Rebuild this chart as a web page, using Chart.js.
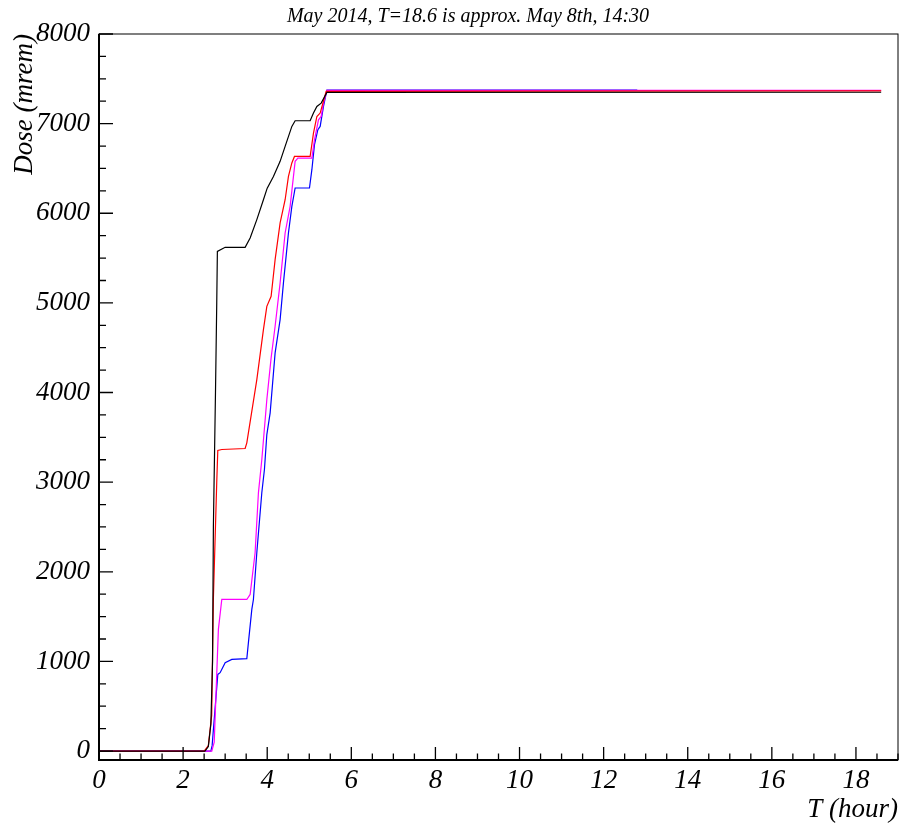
<!DOCTYPE html>
<html>
<head>
<meta charset="utf-8">
<script src="https://cdn.jsdelivr.net/npm/chart.js@4/dist/chart.umd.min.js"></script>
<style>
  html, body { margin: 0; padding: 0; background: #fff; }
  #wrap { width: 902px; height: 829px; }
</style>
</head>
<body>
<div id="wrap"><canvas id="chart"></canvas></div>
<script>
const titleText = 'May 2014, T=18.6 is approx. May 8th, 14:30';
const xTitle = 'T (hour)';
const yTitle = 'Dose (mrem)';

const xTicks = [0, 2, 4, 6, 8, 10, 12, 14, 16, 18];
const yTicks = [0, 1000, 2000, 3000, 4000, 5000, 6000, 7000, 8000];

// dose curves, [T (hour), dose (mrem)]
const blackCurve = [
  [0, 0], [2.52, 0], [2.6, 50], [2.66, 300], [2.7, 1000], [2.72, 2500], [2.77, 4000],
  [2.8, 5000], [2.815, 5575], [3.0, 5620], [3.475, 5620], [3.594, 5724], [3.753, 5929],
  [3.91, 6151], [4.0, 6280], [4.148, 6411], [4.307, 6579], [4.426, 6746], [4.586, 6969],
  [4.664, 7032], [5.021, 7032], [5.1, 7118], [5.181, 7192], [5.283, 7229], [5.419, 7348],
  [18.6, 7350]
];
const redCurve = [
  [0, 0], [2.5, 0], [2.6, 60], [2.68, 400], [2.72, 1700], [2.8, 3000], [2.825, 3353],
  [2.92, 3364], [3.475, 3375], [3.515, 3439], [3.753, 4144], [3.91, 4702], [3.991, 4962],
  [4.093, 5073], [4.188, 5482], [4.307, 5892], [4.426, 6151], [4.505, 6411], [4.586, 6561],
  [4.648, 6634], [5.021, 6634], [5.1, 6895], [5.181, 7080], [5.259, 7118], [5.324, 7229],
  [5.402, 7359], [18.6, 7365]
];
const magentaCurve = [
  [0, 0], [2.682, 0], [2.74, 100], [2.839, 1357], [2.92, 1691], [3.515, 1691], [3.594, 1747],
  [3.712, 2212], [3.791, 2881], [3.872, 3252], [3.991, 3921], [4.093, 4386], [4.188, 4739],
  [4.307, 5223], [4.426, 5780], [4.545, 6077], [4.664, 6579], [4.729, 6616], [5.062, 6616],
  [5.124, 6820], [5.219, 7043], [5.283, 7080], [5.338, 7229], [5.419, 7370], [18.6, 7370]
];
const blueCurve = [
  [0, 0], [2.66, 0], [2.69, 60], [2.825, 855], [2.88, 874], [3.0, 986], [3.158, 1022],
  [3.515, 1030], [3.553, 1209], [3.634, 1580], [3.672, 1691], [3.753, 2215], [3.872, 2884],
  [3.934, 3141], [3.991, 3531], [4.07, 3773], [4.188, 4442], [4.307, 4814], [4.386, 5223],
  [4.505, 5780], [4.586, 6077], [4.664, 6282], [5.005, 6282], [5.062, 6486], [5.124, 6765],
  [5.205, 6932], [5.259, 6969], [5.338, 7192], [5.419, 7375], [12.8, 7375]
];

const serif = "'Liberation Serif', 'DejaVu Serif', serif";

const toPoints = (curve) => curve.map(([x, y]) => ({ x, y }));

const line = (curve, color) => ({
  data: toPoints(curve),
  borderColor: color,
  borderWidth: 1.2,
  pointRadius: 0,
  tension: 0,
  fill: false
});

// ROOT style frame: ticks pointing into the plot, title top centre
const rootFrame = {
  id: 'rootFrame',
  afterDraw: (chart) => {
    const { ctx, chartArea: a } = chart;
    const xs = chart.scales.x;
    const ys = chart.scales.y;
    ctx.save();
    ctx.strokeStyle = '#000';

    ctx.lineWidth = 1;
    ctx.strokeRect(a.left, a.top, a.right - a.left, a.bottom - a.top);

    ctx.lineWidth = 2;
    ctx.beginPath();
    ctx.moveTo(a.left, a.top);
    ctx.lineTo(a.left, a.bottom);
    ctx.lineTo(a.right, a.bottom);
    ctx.stroke();

    ctx.lineWidth = 1.3;
    ctx.beginPath();
    for (let v = xs.min; v <= xs.max + 1e-9; v += 0.5) {
      const px = xs.getPixelForValue(v);
      const len = Math.abs(v % 2) < 1e-9 ? 13 : 6.5;
      ctx.moveTo(px, a.bottom);
      ctx.lineTo(px, a.bottom - len);
    }
    for (let v = 0; v <= ys.max + 1e-9; v += 250) {
      const py = ys.getPixelForValue(v);
      const len = v % 1000 === 0 ? 14 : 7;
      ctx.moveTo(a.left, py);
      ctx.lineTo(a.left + len, py);
    }
    ctx.stroke();

    ctx.fillStyle = '#000';
    ctx.font = `italic 20px ${serif}`;
    ctx.textAlign = 'center';
    ctx.textBaseline = 'middle';
    ctx.fillText(titleText, 468, 17);
    ctx.restore();
  }
};

new Chart(document.getElementById('chart'), {
  type: 'line',
  data: {
    datasets: [
      line(blackCurve, '#000000'),
      line(redCurve, '#ff0000'),
      line(magentaCurve, '#ff00ff'),
      line(blueCurve, '#0000ff')
    ]
  },
  options: {
    responsive: true,
    maintainAspectRatio: false,
    animation: false,
    events: [],
    layout: { padding: { left: 0, right: 4, top: 34, bottom: 0 } },
    plugins: {
      legend: { display: false },
      tooltip: { enabled: false }
    },
    scales: {
      x: {
        type: 'linear',
        min: 0,
        max: 19,
        afterBuildTicks: (s) => { s.ticks = xTicks.map((value) => ({ value })); },
        afterFit: (s) => { s.height = 69; },
        grid: { display: false, drawTicks: false },
        border: { display: false },
        ticks: {
          padding: 5,
          maxRotation: 0,
          color: '#000',
          callback: (v) => String(v),
          font: { family: serif, style: 'italic', size: 27 }
        },
        title: {
          display: true,
          text: xTitle,
          align: 'end',
          color: '#000',
          padding: { top: 0, bottom: 3 },
          font: { family: serif, style: 'italic', size: 27 }
        }
      },
      y: {
        type: 'linear',
        min: -100,
        max: 8000,
        afterBuildTicks: (s) => { s.ticks = yTicks.map((value) => ({ value })); },
        afterFit: (s) => { s.width = 99; },
        grid: { display: false, drawTicks: false },
        border: { display: false },
        ticks: {
          padding: 9,
          color: '#000',
          callback: (v) => String(v),
          font: { family: serif, style: 'italic', size: 27 }
        },
        title: {
          display: true,
          text: yTitle,
          align: 'end',
          color: '#000',
          padding: { top: 9, bottom: 0 },
          font: { family: serif, style: 'italic', size: 27 }
        }
      }
    }
  },
  plugins: [rootFrame]
});
</script>
</body>
</html>
